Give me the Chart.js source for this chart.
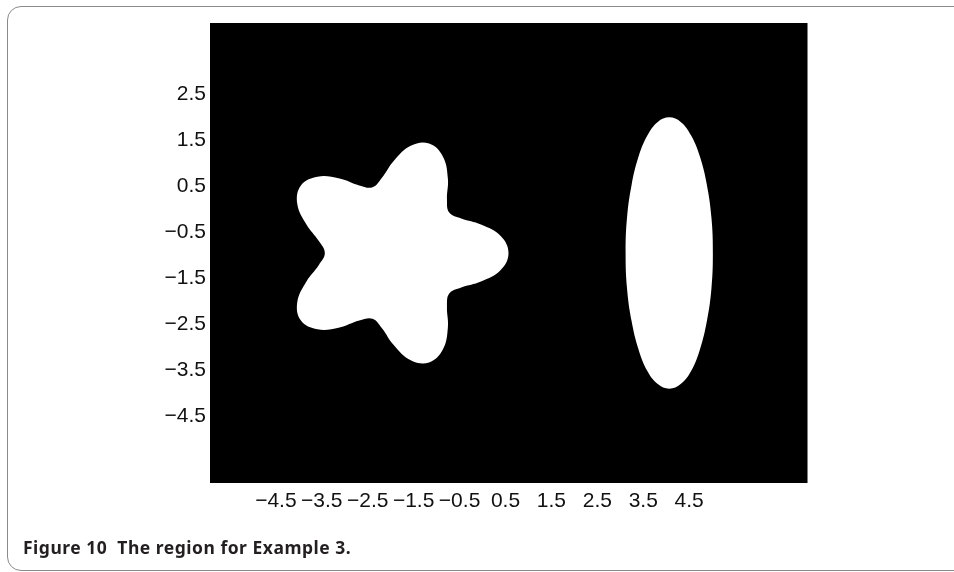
<!DOCTYPE html>
<html>
<head>
<meta charset="utf-8">
<script src="https://cdn.jsdelivr.net/npm/chart.js@4.4.1/dist/chart.umd.min.js"></script>
<style>
  html, body { margin: 0; padding: 0; background: #fff; }
  #wrap { position: relative; width: 954px; height: 572px; overflow: hidden; }
  #frame { position: absolute; left: 7px; top: 6px; width: 990px; height: 565px;
           border: 1.5px solid #8a8a8a; border-radius: 14px; box-sizing: border-box; }
  #c { position: absolute; left: 0; top: 0; }
  #cap { position: absolute; left: 23px; top: 536px; font: bold 17.5px "Noto Sans", sans-serif;
         letter-spacing: 0.5px; line-height: 22px; white-space: pre; color: #231f20; }
</style>
</head>
<body>
<div id="wrap">
  <div id="frame"></div>
  <canvas id="c" width="954" height="572"></canvas>
  <div id="cap">Figure 10  The region for Example 3.</div>
</div>
<script>
// Boundary of the five-lobed region (points taken counter-clockwise)
const starX = [0.50, 0.33, -0.10, -0.53, -0.79, -0.84, -0.82, -0.93, -1.23, -1.63,
               -2.00, -2.26, -2.46, -2.75, -3.18, -3.66, -4.02, -4.10, -3.90, -3.63,
               -3.50, -3.63, -3.90, -4.10, -4.02, -3.66, -3.18, -2.75, -2.46, -2.26,
               -2.00, -1.63, -1.23, -0.93, -0.82, -0.84, -0.79, -0.53, -0.10, 0.33];
const starY = [-1.00, -0.63, -0.38, -0.25, -0.12, 0.16, 0.62, 1.10, 1.38, 1.33,
               1.00, 0.63, 0.43, 0.47, 0.62, 0.66, 0.47, 0.07, -0.38, -0.74,
               -1.00, -1.26, -1.62, -2.07, -2.47, -2.66, -2.62, -2.47, -2.43, -2.63,
               -3.00, -3.33, -3.38, -3.10, -2.62, -2.16, -1.88, -1.75, -1.62, -1.37];

// Boundary of the elliptical region
const ellipseX = [4.95, 4.92, 4.82, 4.67, 4.48, 4.25, 4.00, 3.75, 3.52, 3.33, 3.18, 3.08,
                  3.05, 3.08, 3.18, 3.33, 3.52, 3.75, 4.00, 4.25, 4.48, 4.67, 4.82, 4.92];
const ellipseY = [-1.00, -0.24, 0.48, 1.09, 1.55, 1.85, 1.95, 1.85, 1.55, 1.09, 0.48, -0.24,
                  -1.00, -1.76, -2.48, -3.09, -3.56, -3.85, -3.95, -3.85, -3.56, -3.09, -2.48, -1.76];

const xRange = [-6, 7];
const yRange = [-6, 4];
const xTickValues = [-4.5, -3.5, -2.5, -1.5, -0.5, 0.5, 1.5, 2.5, 3.5, 4.5];
const xTickLabels = ['\u22124.5', '\u22123.5', '\u22122.5', '\u22121.5', '\u22120.5',
                     '0.5', '1.5', '2.5', '3.5', '4.5'];
const yTickValues = [-4.5, -3.5, -2.5, -1.5, -0.5, 0.5, 1.5, 2.5];
const yTickLabels = ['\u22124.5', '\u22123.5', '\u22122.5', '\u22121.5', '\u22120.5',
                     '0.5', '1.5', '2.5'];

// Closed outline: wrap one point on each side so the smoothed curve joins without a kink
function closedLoop(xs, ys) {
  const pts = xs.map((x, i) => ({ x: x, y: ys[i] }));
  const n = pts.length;
  return [pts[n - 1]].concat(pts, [pts[0], pts[1]]);
}

// Black plot field with a thin grey right edge
const plotBackground = {
  id: 'plotBackground',
  beforeDraw(chart) {
    const { ctx, chartArea: a } = chart;
    ctx.save();
    ctx.fillStyle = '#000';
    ctx.fillRect(a.left, a.top, a.right - a.left, a.bottom - a.top);
    ctx.strokeStyle = '#7d7d7d';
    ctx.lineWidth = 1;
    ctx.beginPath();
    ctx.moveTo(a.right + 0.5, a.top);
    ctx.lineTo(a.right + 0.5, a.bottom);
    ctx.stroke();
    ctx.restore();
  }
};

const tickFont = { family: '"Liberation Sans", Arial, sans-serif', size: 21 };

const regionStyle = {
  showLine: true,
  fill: 'shape',
  backgroundColor: '#ffffff',
  borderColor: 'rgba(0,0,0,0)',
  borderWidth: 0,
  pointRadius: 0,
  pointHoverRadius: 0,
  tension: 0.4
};

new Chart(document.getElementById('c'), {
  type: 'scatter',
  data: {
    datasets: [
      Object.assign({ label: 'star', data: closedLoop(starX, starY) }, regionStyle),
      Object.assign({ label: 'ellipse', data: closedLoop(ellipseX, ellipseY) }, regionStyle)
    ]
  },
  options: {
    responsive: false,
    animation: false,
    events: [],
    layout: { padding: { left: 0, right: 147, top: 23, bottom: 49 } },
    plugins: { legend: { display: false }, tooltip: { enabled: false } },
    scales: {
      x: {
        type: 'linear', min: xRange[0], max: xRange[1],
        grid: { display: false, drawTicks: false },
        border: { display: false },
        afterBuildTicks: s => { s.ticks = xTickValues.map(v => ({ value: v })); },
        afterFit: s => { s.height = 40; },
        ticks: {
          padding: 6, labelOffset: -3, color: '#111', font: tickFont,
          maxRotation: 0, minRotation: 0, autoSkip: false,
          callback: (v, i) => xTickLabels[i]
        }
      },
      y: {
        type: 'linear', min: yRange[0], max: yRange[1],
        grid: { display: false, drawTicks: false },
        border: { display: false },
        afterBuildTicks: s => { s.ticks = yTickValues.map(v => ({ value: v })); },
        afterFit: s => { s.width = 210; },
        ticks: {
          padding: 4, labelOffset: 2, color: '#111', font: tickFont, autoSkip: false,
          callback: (v, i) => yTickLabels[i]
        }
      }
    }
  },
  plugins: [plotBackground]
});
</script>
</body>
</html>
